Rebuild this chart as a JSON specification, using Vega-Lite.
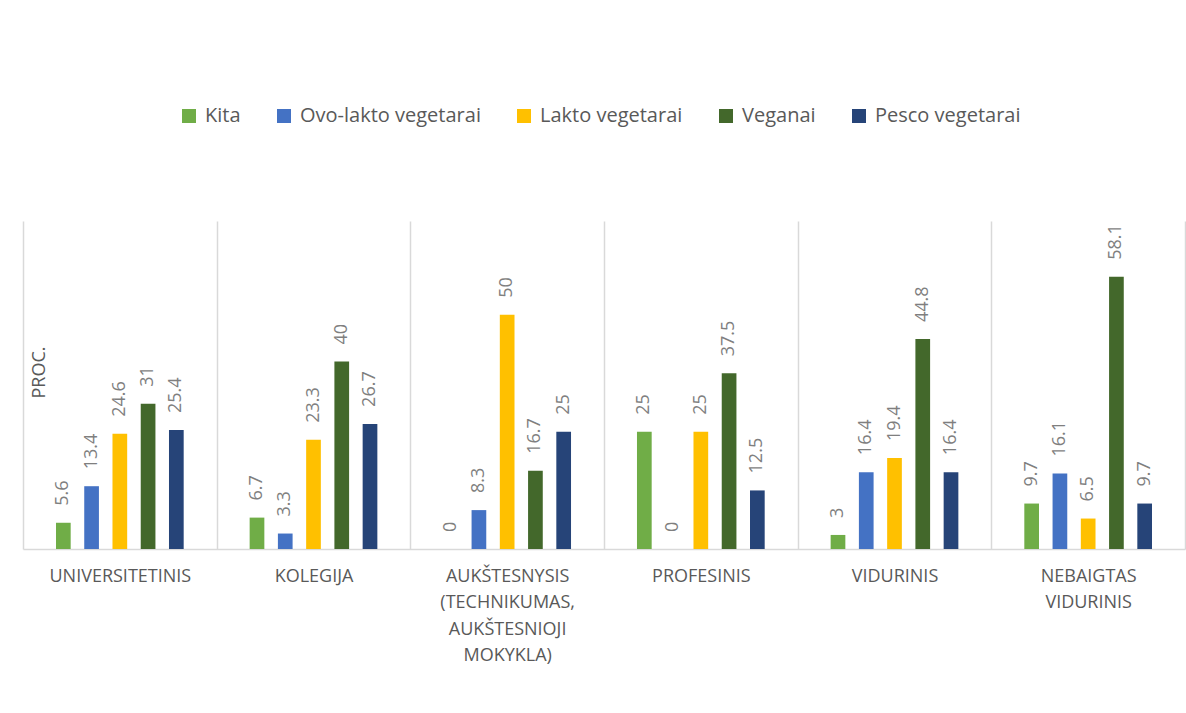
{
  "$schema": "https://vega.github.io/schema/vega-lite/v6.json",
  "autosize": {"type": "none"},
  "width": 1162,
  "height": 328,
  "padding": {"left": 23, "top": 221, "right": 1, "bottom": 164},
  "background": "white",
  "config": {
    "font": "Open Sans",
    "view": {"stroke": null}
  },
  "data": {
    "values": [
      {"cat": "UNIVERSITETINIS", "s": "Kita", "v": 5.6},
      {"cat": "UNIVERSITETINIS", "s": "Ovo-lakto vegetarai", "v": 13.4},
      {"cat": "UNIVERSITETINIS", "s": "Lakto vegetarai", "v": 24.6},
      {"cat": "UNIVERSITETINIS", "s": "Veganai", "v": 31},
      {"cat": "UNIVERSITETINIS", "s": "Pesco vegetarai", "v": 25.4},
      {"cat": "KOLEGIJA", "s": "Kita", "v": 6.7},
      {"cat": "KOLEGIJA", "s": "Ovo-lakto vegetarai", "v": 3.3},
      {"cat": "KOLEGIJA", "s": "Lakto vegetarai", "v": 23.3},
      {"cat": "KOLEGIJA", "s": "Veganai", "v": 40},
      {"cat": "KOLEGIJA", "s": "Pesco vegetarai", "v": 26.7},
      {"cat": "AUKŠTESNYSIS (TECHNIKUMAS, AUKŠTESNIOJI MOKYKLA)", "s": "Kita", "v": 0},
      {"cat": "AUKŠTESNYSIS (TECHNIKUMAS, AUKŠTESNIOJI MOKYKLA)", "s": "Ovo-lakto vegetarai", "v": 8.3},
      {"cat": "AUKŠTESNYSIS (TECHNIKUMAS, AUKŠTESNIOJI MOKYKLA)", "s": "Lakto vegetarai", "v": 50},
      {"cat": "AUKŠTESNYSIS (TECHNIKUMAS, AUKŠTESNIOJI MOKYKLA)", "s": "Veganai", "v": 16.7},
      {"cat": "AUKŠTESNYSIS (TECHNIKUMAS, AUKŠTESNIOJI MOKYKLA)", "s": "Pesco vegetarai", "v": 25},
      {"cat": "PROFESINIS", "s": "Kita", "v": 25},
      {"cat": "PROFESINIS", "s": "Ovo-lakto vegetarai", "v": 0},
      {"cat": "PROFESINIS", "s": "Lakto vegetarai", "v": 25},
      {"cat": "PROFESINIS", "s": "Veganai", "v": 37.5},
      {"cat": "PROFESINIS", "s": "Pesco vegetarai", "v": 12.5},
      {"cat": "VIDURINIS", "s": "Kita", "v": 3},
      {"cat": "VIDURINIS", "s": "Ovo-lakto vegetarai", "v": 16.4},
      {"cat": "VIDURINIS", "s": "Lakto vegetarai", "v": 19.4},
      {"cat": "VIDURINIS", "s": "Veganai", "v": 44.8},
      {"cat": "VIDURINIS", "s": "Pesco vegetarai", "v": 16.4},
      {"cat": "NEBAIGTAS VIDURINIS", "s": "Kita", "v": 9.7},
      {"cat": "NEBAIGTAS VIDURINIS", "s": "Ovo-lakto vegetarai", "v": 16.1},
      {"cat": "NEBAIGTAS VIDURINIS", "s": "Lakto vegetarai", "v": 6.5},
      {"cat": "NEBAIGTAS VIDURINIS", "s": "Veganai", "v": 58.1},
      {"cat": "NEBAIGTAS VIDURINIS", "s": "Pesco vegetarai", "v": 9.7}
    ]
  },
  "encoding": {
    "x": {
      "field": "cat",
      "type": "nominal",
      "sort": null,
      "scale": {"paddingInner": 0, "paddingOuter": 0},
      "axis": {
        "title": null,
        "labelAngle": 0,
        "labelExpr": "split(datum.label, ' ')",
        "labelFontSize": 18,
        "labelColor": "#595959",
        "labelPadding": 18,
        "labelLineHeight": 26.5,
        "labelLimit": 0,
        "ticks": false,
        "tickBand": "extent",
        "grid": true,
        "gridColor": "#d9d9d9",
        "gridWidth": 1.5,
        "domainColor": "#d9d9d9",
        "domainWidth": 1.5
      }
    },
    "xOffset": {
      "field": "s",
      "type": "nominal",
      "sort": ["Kita", "Ovo-lakto vegetarai", "Lakto vegetarai", "Veganai", "Pesco vegetarai"],
      "scale": {"paddingInner": 0.145, "paddingOuter": 1}
    },
    "y": {
      "field": "v",
      "type": "quantitative",
      "scale": {"domain": [0, 70], "nice": false},
      "axis": {
        "title": "PROC.",
        "titleFontSize": 18,
        "titleFontWeight": "normal",
        "titleColor": "#595959",
        "titleX": 16,
        "titleY": 151,
        "titleAngle": -90,
        "titleAlign": "center",
        "titleBaseline": "middle",
        "labels": false,
        "ticks": false,
        "domain": false,
        "grid": false
      }
    }
  },
  "layer": [
    {
      "mark": {"type": "bar", "width": 14.7},
      "encoding": {
        "color": {
          "field": "s",
          "type": "nominal",
          "scale": {
            "domain": ["Kita", "Ovo-lakto vegetarai", "Lakto vegetarai", "Veganai", "Pesco vegetarai"],
            "range": ["#70ad47", "#4472c4", "#ffc000", "#43682b", "#264478"]
          },
          "legend": {
            "title": null,
            "orient": "none",
            "direction": "horizontal",
            "legendX": 156,
            "legendY": -115,
            "padding": 0,
            "symbolType": "square",
            "symbolSize": 196,
            "symbolStrokeWidth": 0,
            "labelFontSize": 20,
            "labelColor": "#595959",
            "labelOffset": 6,
            "columnPadding": 33,
            "labelLimit": 0
          }
        }
      }
    },
    {
      "mark": {
        "type": "text",
        "angle": 270,
        "align": "left",
        "baseline": "middle",
        "dx": 17,
        "fontSize": 18,
        "color": "#7f7f7f"
      },
      "encoding": {
        "text": {"field": "v", "type": "quantitative"}
      }
    }
  ]
}
